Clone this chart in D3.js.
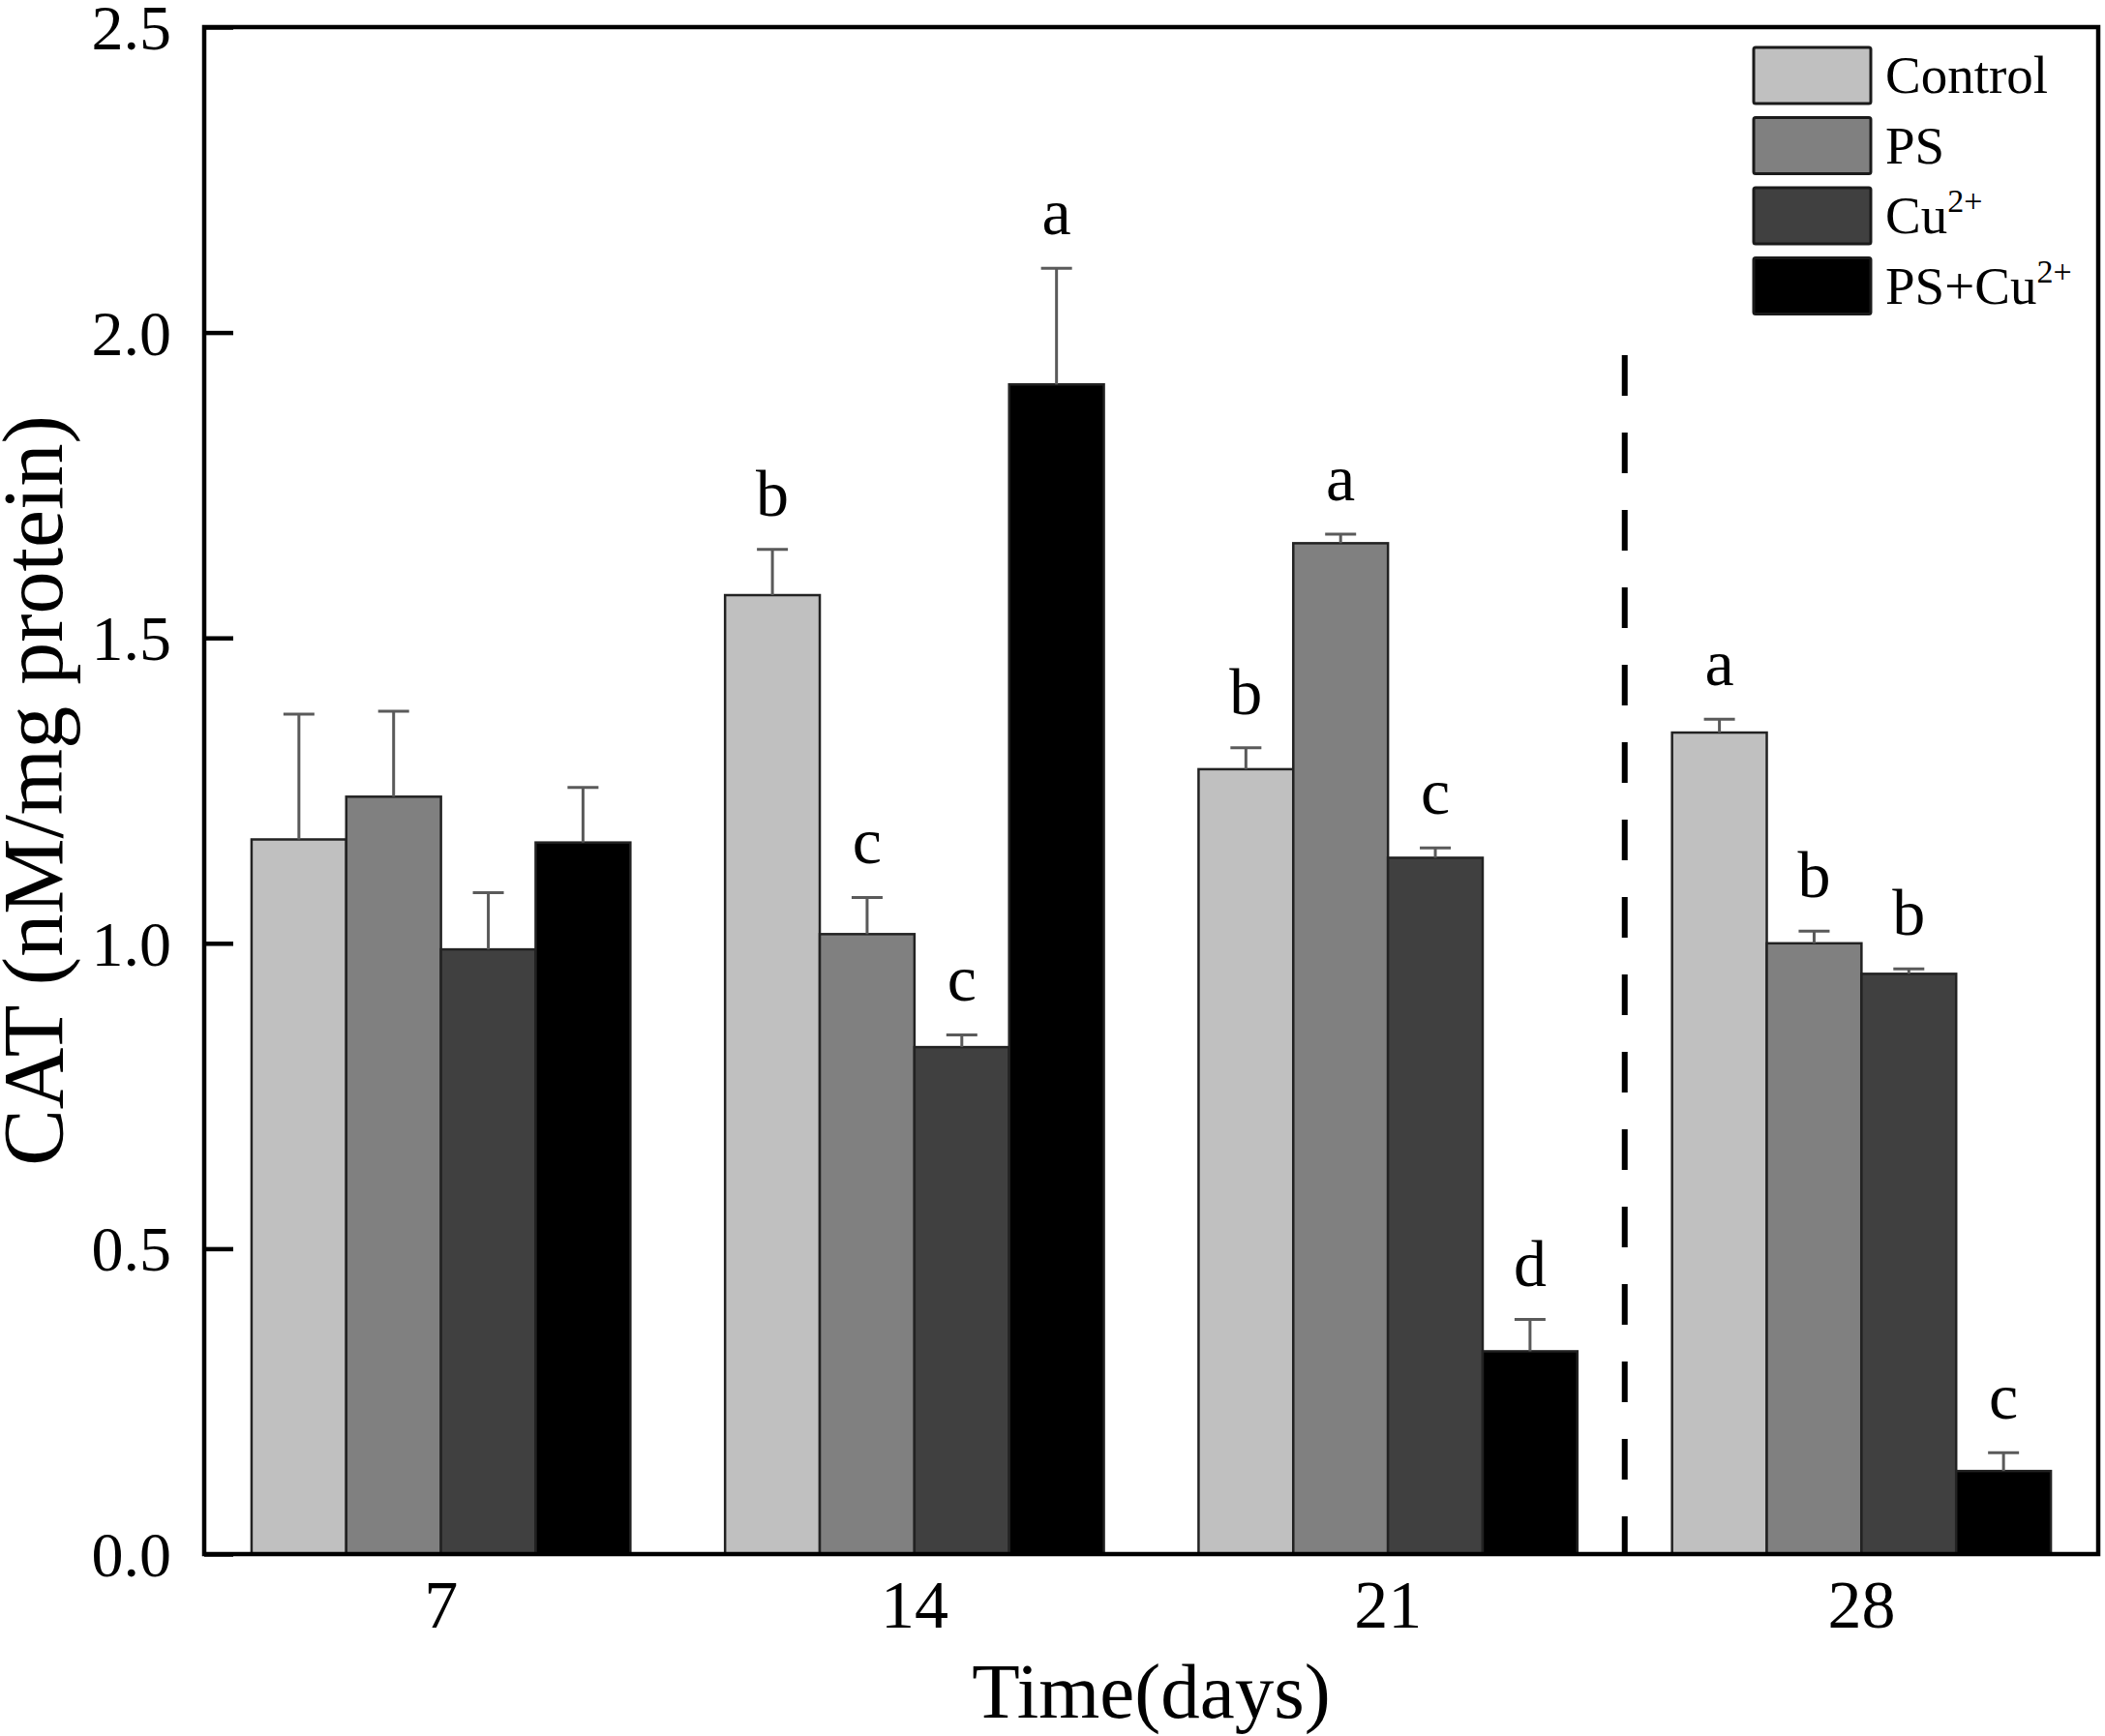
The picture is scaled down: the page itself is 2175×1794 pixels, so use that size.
<!DOCTYPE html>
<html>
<head>
  <meta charset="utf-8">
  <style>
    body {
      margin: 0;
      background-color: #ffffff;
    }
    svg {
      display: block;
      background-color: #ffffff;
    }
    text {
      font-family: "Liberation Serif", "Times New Roman", serif;
      fill: #000;
    }
  </style>
</head>
<body>

  <div id="chart_cat"></div>

  <script src="https://d3js.org/d3.v7.min.js"></script>
  <script>

    // days on the x axis
    var days = ["7", "14", "21", "28"];

    // treatments (legend order)
    var treatments = ["Control", "PS", "Cu", "PS+Cu"];

    // mean CAT values per treatment, one value per day
    var control = [1.17, 1.57, 1.285, 1.345];
    var ps = [1.24, 1.015, 1.655, 1.0];
    var cu = [0.99, 0.83, 1.14, 0.95];
    var psCu = [1.165, 1.915, 0.332, 0.136];

    // error (upper whisker) per treatment
    var controlErr = [0.205, 0.075, 0.035, 0.022];
    var psErr = [0.14, 0.06, 0.015, 0.02];
    var cuErr = [0.093, 0.02, 0.016, 0.008];
    var psCuErr = [0.09, 0.19, 0.052, 0.03];

    // significance letters
    var controlLetters = ["", "b", "b", "a"];
    var psLetters = ["", "c", "a", "b"];
    var cuLetters = ["", "c", "c", "b"];
    var psCuLetters = ["", "a", "d", "c"];

    var yTicks = [0, 0.5, 1.0, 1.5, 2.0, 2.5];

    var draw_chart = function () {
      var W = 2175, H = 1794;
      var margin = {top: 28, right: 7, bottom: 188, left: 211};
      var width = W - margin.left - margin.right,
          height = H - margin.top - margin.bottom;

      var color = d3.scaleOrdinal()
          .domain(treatments)
          .range(["#c0c0c0", "#808080", "#404040", "#000000"]);

      var means = [control, ps, cu, psCu];
      var errs = [controlErr, psErr, cuErr, psCuErr];
      var letters = [controlLetters, psLetters, cuLetters, psCuLetters];

      // flatten into one row per bar
      var data = [];
      days.forEach(function (day, i) {
        treatments.forEach(function (t, j) {
          data.push({day: day, key: t, value: means[j][i], err: errs[j][i], letter: letters[j][i]});
        });
      });

      var svg = d3.select("#chart_cat")
          .append("svg")
          .attr("width", W)
          .attr("height", H)
          .append("g")
          .attr("transform", "translate(" + margin.left + "," + margin.top + ")");

      var x = d3.scaleBand()
          .domain(days)
          .range([0, width])
          .paddingInner(0.2)
          .paddingOuter(0.1);

      var xSub = d3.scaleBand()
          .domain(treatments)
          .range([0, x.bandwidth()]);

      var y = d3.scaleLinear()
          .domain([0, 2.5])
          .range([height, 0]);

      // bars
      svg.append("g")
          .selectAll("rect")
          .data(data)
          .enter().append("rect")
          .attr("x", d => x(d.day) + xSub(d.key))
          .attr("y", d => y(d.value))
          .attr("width", xSub.bandwidth())
          .attr("height", d => height - y(d.value))
          .attr("fill", d => color(d.key))
          .attr("stroke", "#222")
          .attr("stroke-width", 2.5);

      // error bars (upper only)
      var eb = svg.append("g")
          .attr("stroke", "#5a5a5a")
          .attr("stroke-width", 3)
          .selectAll("g")
          .data(data)
          .enter().append("g")
          .attr("transform", d => "translate(" + (x(d.day) + xSub(d.key) + xSub.bandwidth() / 2) + ",0)");

      eb.append("line")
          .attr("x1", 0).attr("x2", 0)
          .attr("y1", d => y(d.value))
          .attr("y2", d => y(d.value + d.err));

      eb.append("line")
          .attr("x1", -16).attr("x2", 16)
          .attr("y1", d => y(d.value + d.err))
          .attr("y2", d => y(d.value + d.err));

      // letters above error bars
      svg.append("g")
          .selectAll("text")
          .data(data.filter(d => d.letter !== ""))
          .enter().append("text")
          .attr("x", d => x(d.day) + xSub(d.key) + xSub.bandwidth() / 2)
          .attr("y", d => y(d.value + d.err) - 35)
          .attr("text-anchor", "middle")
          .style("font-size", "68px")
          .text(d => d.letter);

      // dashed separator between day 21 and day 28
      var gap = x.step() * x.paddingInner();
      svg.append("line")
          .attr("x1", x("28") - gap / 2)
          .attr("x2", x("28") - gap / 2)
          .attr("y1", y(1.963))
          .attr("y2", height)
          .attr("stroke", "#000")
          .attr("stroke-width", 6)
          .attr("stroke-dasharray", "42,38");

      // axes
      var yAxis = d3.axisLeft(y)
          .tickValues(yTicks)
          .tickFormat(d3.format(".1f"))
          .tickSize(-30)
          .tickPadding(34);

      var gy = svg.append("g")
          .call(yAxis);
      gy.select(".domain").remove();
      gy.selectAll("line").attr("stroke", "#000").attr("stroke-width", 4.5);
      gy.selectAll("text")
          .style("font-size", "66px")
          .attr("dy", "0.34em");

      var xAxis = d3.axisBottom(x)
          .tickSize(0)
          .tickPadding(20);

      var gx = svg.append("g")
          .attr("transform", "translate(0," + height + ")")
          .call(xAxis);
      gx.select(".domain").remove();
      gx.selectAll("text")
          .style("font-size", "70px")
          .attr("dy", "0.8em");

      // frame
      svg.append("rect")
          .attr("x", 0)
          .attr("y", 0)
          .attr("width", width)
          .attr("height", height)
          .attr("fill", "none")
          .attr("stroke", "#000")
          .attr("stroke-width", 4.5);

      // axis titles
      svg.append("text")
          .attr("text-anchor", "middle")
          .attr("transform", "translate(" + (64 - margin.left) + "," + (height / 2) + ") rotate(-90)")
          .style("font-size", "88px")
          .text("CAT (nM/mg protein)");

      svg.append("text")
          .attr("text-anchor", "middle")
          .attr("x", width / 2)
          .attr("y", height + 169)
          .style("font-size", "81px")
          .text("Time(days)");

      // legend
      var legend = svg.append("g")
          .attr("transform", "translate(" + (1812 - margin.left) + "," + (49 - margin.top) + ")")
          .selectAll("g")
          .data(treatments)
          .enter().append("g")
          .attr("transform", (d, i) => "translate(0," + (i * 72.5) + ")");

      legend.append("rect")
          .attr("width", 121)
          .attr("height", 58)
          .attr("rx", 2)
          .attr("fill", d => color(d))
          .attr("stroke", "#1a1a1a")
          .attr("stroke-width", 3);

      var lt = legend.append("text")
          .attr("x", 136)
          .attr("y", 47)
          .style("font-size", "55px");

      lt.append("tspan").text(d => d);
      lt.filter(d => d.indexOf("Cu") >= 0)
          .append("tspan")
          .attr("dy", -22)
          .style("font-size", "34px")
          .text("2+");

    } // end of draw_chart()

    draw_chart()

  </script>

</body>
</html>
